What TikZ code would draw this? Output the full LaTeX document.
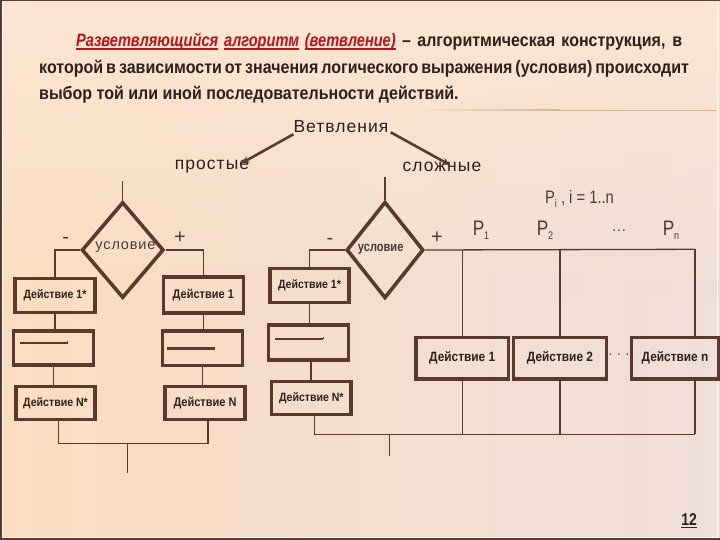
\documentclass[tikz,border=0pt]{standalone}
\usepackage{fontspec}
\usetikzlibrary{arrows.meta,shapes.geometric,fadings}
\setmainfont{Liberation Sans}
\newfontfamily\narrowfont[FakeStretch=0.82]{Liberation Sans}
\newfontfamily\headfont[FakeStretch=0.89]{Liberation Sans}
\newfontfamily\redfont[FakeStretch=0.81]{Liberation Sans}
\newfontfamily\condfont[FakeStretch=0.88]{Liberation Sans}
\newfontfamily\spacedfont[LetterSpace=6]{Liberation Sans}
\definecolor{bgA}{HTML}{FADDC1}
\definecolor{bgB}{HTML}{EFDED9}
\definecolor{bgT}{HTML}{FCE6D2}
\definecolor{lin}{HTML}{5A3A2C}
\definecolor{txt}{HTML}{2E211B}
\definecolor{soft}{HTML}{4A3A34}
\definecolor{redt}{HTML}{B8121C}
\definecolor{rule}{HTML}{D7B48F}
\newcommand{\myul}[1]{{\setbox0\hbox{#1}\rlap{\rule[-2.6pt]{\wd0}{1.1pt}}\box0}}
\tikzset{
  thick box/.style={draw=lin, line width=3.2pt, fill=none, inner sep=0pt, text=txt},
  small act/.style={thick box, font=\condfont\bfseries\fontsize{12}{13}\selectfont},
  big act/.style={thick box, font=\condfont\bfseries\fontsize{13.5}{15}\selectfont},
  cond/.style={diamond, draw=lin, line width=3.6pt, inner sep=0pt, text=soft},
  conn/.style={draw=lin, line width=1.3pt},
  arr/.style={draw=lin, line width=2.6pt, -{Stealth[length=8pt,width=7pt]}},
  sign/.style={font=\fontsize{20}{20}\selectfont, text=soft, inner sep=0pt},
  plabel/.style={font=\narrowfont\fontsize{21}{22}\selectfont, text=soft, inner sep=0pt},
  cat/.style={font=\spacedfont\fontsize{17.5}{18}\selectfont, text=txt, inner sep=0pt},
  head/.style={anchor=base west, inner sep=0pt, text=txt, font=\headfont\bfseries\fontsize{18}{20}\selectfont},
}
\begin{document}
\begin{tikzpicture}[x=1pt,y=-1pt]
\useasboundingbox (0,0) rectangle (720,540);
% background
\shade[left color=bgA, right color=bgB] (0,0) rectangle (720,540);
\fill[bgT, path fading=south] (0,0) rectangle (720,300);
% frame
\draw[draw=lin, line width=1.6pt] (0.8,0) -- (0.8,540);
\draw[draw=lin, line width=1.6pt] (0,539.2) -- (720,539.2);
\draw[draw=lin, line width=1pt] (0,0.5) -- (720,0.5);
\draw[draw=white, line width=0.8pt] (2.8,2) -- (2.8,537.3) -- (717.5,537.3) -- (717.5,2);
% header
\node[head] (h1) at (76,47)
  {\makebox[606pt][s]{\textcolor{redt}{\redfont\bfseries\itshape\myul{Разветвляющийся} \myul{алгоритм} \myul{(ветвление)}} – алгоритмическая конструкция, в}};
\node[head] (h2) at (39,73.5)
  {\makebox[643pt][s]{которой в зависимости от значения логического выражения (условия) происходит}};
\node[head] (h3) at (39,100)
  {выбор той или иной последовательности действий.};
\shade[left color=bgT, right color=rule] (400,109.6) rectangle (560,110.6);
\fill[rule] (560,109.6) rectangle (716,110.6);
% categories
\node[cat] (vet) at (341,127) {Ветвления};
\node[cat] (prost) at (212,167) {простые};
\node[cat] (slozh) at (442,167) {сложные};
\draw[arr] ([yshift=-1pt]vet.south west) -- ([xshift=-8pt,yshift=-3pt]prost.north east);
\draw[arr] ([xshift=2pt,yshift=1pt]vet.south east) -- ([xshift=8pt,yshift=-3pt]slozh.north);
% ---------- simple branch ----------
\coordinate (s0) at (122.7,181);
\node[cond, minimum width=82pt, minimum height=96pt] (d1) at (122.7,250) {};
\node[text=soft, inner sep=0pt, font=\spacedfont\fontsize{14.5}{15}\selectfont] (d1t) at (125.5,247.5) {условие};
\draw[conn] (s0) -- (d1.north);
\node[sign] (m1s) at (65.7,240) {-};
\node[sign] (p1s) at (180,238) {+};
\node[small act, minimum width=80pt, minimum height=34.7pt] (b1) at (55,295.5) {Действие 1*};
\node[thick box, minimum width=80pt, minimum height=34pt] (b2) at (53.3,348) {};
\node[small act, minimum width=79pt, minimum height=32.6pt] (b3) at (55.5,403) {Действие N*};
\node[big act, font=\condfont\bfseries\fontsize{12.5}{13}\selectfont, minimum width=80pt, minimum height=36pt] (r1) at (203.3,295) {Действие 1};
\node[thick box, minimum width=79.6pt, minimum height=34.7pt] (r2) at (202.5,348.3) {};
\node[big act, font=\condfont\bfseries\fontsize{12.5}{13}\selectfont, minimum width=80pt, minimum height=32.3pt] (r3) at (205,403) {Действие N};
\draw[draw=lin, line width=1.8pt] ([xshift=8.4pt,yshift=4.7pt]b2.west) -- ([xshift=56pt,yshift=4.7pt]b2.west);
\draw[draw=lin, line width=0.8pt] ([xshift=55.6pt,yshift=4.7pt]b2.west) -- ([xshift=55.6pt,yshift=7pt]b2.west);
\draw[draw=lin, line width=2.4pt] ([xshift=5.8pt]r2.west) -- ([xshift=53.5pt]r2.west);
\draw[conn] (d1.west) -| (b1.north);
\draw[conn] (d1.east) -| (r1.north);
\draw[conn] (b1.south) -- (b1.south |- b2.north);
\draw[conn] (b2.south) -- (b2.south |- b3.north);
\draw[conn] (r1.south) -- (r1.south |- r2.north);
\draw[conn] (r2.south) -- (r2.south |- r3.north);
\coordinate (sj) at (127.7,443.3);
\coordinate (se) at (127.7,473);
\draw[conn] ([xshift=3pt]b3.south) |- (sj) -| ([xshift=3pt]r3.south);
\draw[conn] (sj) -- (se);
% ---------- complex branch ----------
\coordinate (c0) at (385,176.7);
\node[cond, minimum width=77pt, minimum height=96.6pt] (d2) at (385,250) {};
\node[text=soft, inner sep=0pt, font=\narrowfont\bfseries\fontsize{13.5}{14}\selectfont] (d2t) at (380.7,249.5) {условие};
\draw[conn] (c0) -- (d2.north);
\node[sign] (m2s) at (330,241.7) {-};
\node[sign] (p2s) at (437,237.7) {+};
\node[small act, minimum width=79pt, minimum height=34.4pt] (c1) at (309.5,285.5) {Действие 1*};
\node[thick box, minimum width=80pt, minimum height=35pt] (c2) at (308.3,342.5) {};
\node[small act, minimum width=79.3pt, minimum height=32.6pt] (c3) at (311.3,398) {Действие N*};
\draw[draw=lin, line width=1.8pt] ([xshift=8.4pt,yshift=3.5pt]c2.west) -- ([xshift=56.7pt,yshift=3.5pt]c2.west);
\draw[draw=lin, line width=0.8pt] ([xshift=56.3pt,yshift=3.5pt]c2.west) -- ([xshift=56.3pt,yshift=5.5pt]c2.west);
\draw[conn] (d2.west) -| (c1.north);
\draw[conn] (c1.south) -- (c1.south |- c2.north);
\draw[conn] ([xshift=2.7pt]c2.south) -- ([xshift=2.7pt]c2.south |- c3.north);
% parallel actions
\node[big act, minimum width=92.3pt, minimum height=41.3pt] (a1) at (462.2,358.3) {Действие 1};
\node[big act, minimum width=93.4pt, minimum height=41.3pt] (a2) at (560,358.3) {Действие 2};
\node[big act, minimum width=86.6pt, minimum height=41.3pt] (an) at (675,358.3) {Действие n};
\node[text=soft, inner sep=0pt, font=\fontsize{14}{14}\selectfont] (dots2) at (619,356) {· · ·};
\coordinate (tr) at (695,249.3);
\coordinate (br) at (695,434.3);
\draw[conn] (d2.east) -- (tr);
\draw[conn] (d2.east -| a1.north) -- (a1.north);
\draw[conn] (d2.east -| a2.north) -- (a2.north);
\draw[conn] (tr) -- (tr |- an.north);
\draw[conn] (a1.south) -- (a1.south |- br);
\draw[conn] (a2.south) -- (a2.south |- br);
\draw[conn] (br |- an.south) -- (br);
\coordinate (cj) at (389.5,434.3);
\coordinate (ce) at (389.5,456);
\draw[conn] ([xshift=3pt]c3.south) |- (br);
\draw[conn] (cj) -- (ce);
% P labels
\node[plabel] (pi) at (579.5,199) {\fontsize{18}{19}\selectfont P\raisebox{-4pt}{\fontsize{11}{11}\selectfont i} , i = 1..n};
\node[plabel] (pa) at (481,230) {P\raisebox{-4pt}{\fontsize{11}{11}\selectfont 1}};
\node[plabel] (pb) at (545,230) {P\raisebox{-4pt}{\fontsize{11}{11}\selectfont 2}};
\node[plabel, font=\fontsize{15}{15}\selectfont] (pdots) at (619,231) {…};
\node[plabel] (pn) at (671,230) {P\raisebox{-4pt}{\fontsize{11}{11}\selectfont n}};
% page number
\node[text=txt, inner sep=0pt, font=\narrowfont\bfseries\fontsize{17}{18}\selectfont] (pg) at (689,521) {\myul{12}};
\end{tikzpicture}
\end{document}
